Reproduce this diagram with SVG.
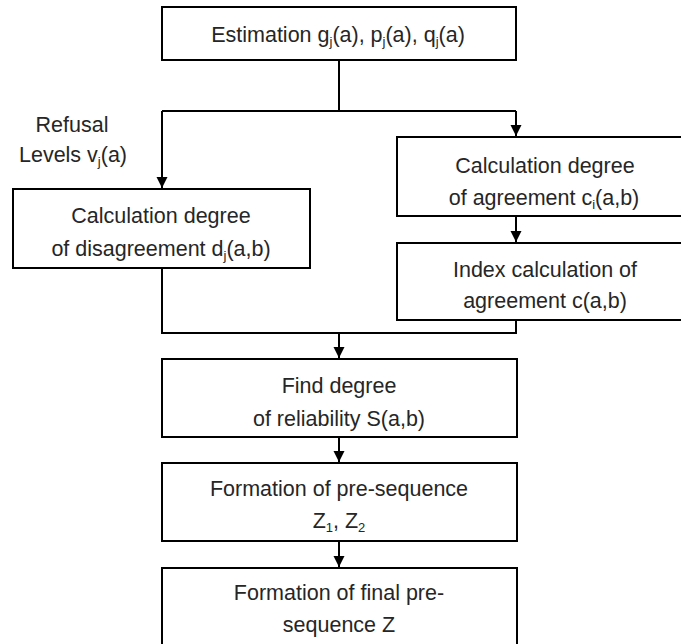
<svg xmlns="http://www.w3.org/2000/svg" width="681" height="644" viewBox="0 0 681 644">
<defs>
<style>
.box{fill:#fff;stroke:#000;stroke-width:2}
.ln{fill:none;stroke:#000;stroke-width:2}
text{font-family:"Liberation Sans",Arial,sans-serif;font-size:21.5px;fill:#262626;text-anchor:middle}
.s{font-size:13px}
</style>
<marker id="ah" markerUnits="userSpaceOnUse" markerWidth="12" markerHeight="12" refX="11" refY="6" orient="auto">
<path d="M0,0.5 L11,6 L0,11.5 z" fill="#000"/>
</marker>
</defs>
<rect width="681" height="644" fill="#fff"/>
<g id="connectors">
<path class="ln" d="M339,60 V111"/>
<path class="ln" d="M162,111 H516"/>
<path class="ln" d="M162,111 V188" marker-end="url(#ah)"/>
<path class="ln" d="M516,111 V136" marker-end="url(#ah)"/>
<path class="ln" d="M516,216 V242" marker-end="url(#ah)"/>
<path class="ln" d="M162,268 V333 H516 V320"/>
<path class="ln" d="M339,333 V358" marker-end="url(#ah)"/>
<path class="ln" d="M339,437 V462" marker-end="url(#ah)"/>
<path class="ln" d="M339,541 V567" marker-end="url(#ah)"/>
</g>
<g id="estimation">
<rect class="box" x="162" y="7" width="354" height="53"/>
<text x="338" y="42">Estimation g<tspan class="s" dy="4">j</tspan><tspan dy="-4">(a), p</tspan><tspan class="s" dy="4">j</tspan><tspan dy="-4">(a), q</tspan><tspan class="s" dy="4">j</tspan><tspan dy="-4">(a)</tspan></text>
</g>
<g id="refusal">
<text x="72" y="132">Refusal</text>
<text x="73" y="162">Levels v<tspan class="s" dy="4">j</tspan><tspan dy="-4">(a)</tspan></text>
</g>
<g id="disagreement">
<rect class="box" x="13" y="189" width="297" height="79"/>
<text x="161" y="223">Calculation degree</text>
<text x="161" y="256">of disagreement d<tspan class="s" dy="4">j</tspan><tspan dy="-4">(a,b)</tspan></text>
</g>
<g id="agreement">
<rect class="box" x="397" y="137" width="300" height="79"/>
<text x="545" y="173">Calculation degree</text>
<text x="544" y="205">of agreement c<tspan class="s" dy="4">i</tspan><tspan dy="-4">(a,b)</tspan></text>
</g>
<g id="index">
<rect class="box" x="397" y="243" width="300" height="77"/>
<text x="545" y="277">Index calculation of</text>
<text x="545" y="308">agreement c(a,b)</text>
</g>
<g id="reliability">
<rect class="box" x="162" y="359" width="355" height="78"/>
<text x="339" y="393">Find degree</text>
<text x="339" y="426">of reliability S(a,b)</text>
</g>
<g id="presequence">
<rect class="box" x="162" y="463" width="355" height="78"/>
<text x="339" y="496">Formation of pre-sequence</text>
<text x="339" y="528">Z<tspan class="s" dy="4">1</tspan><tspan dy="-4">, Z</tspan><tspan class="s" dy="4">2</tspan></text>
</g>
<g id="final">
<rect class="box" x="162" y="568" width="355" height="90"/>
<text x="339" y="600">Formation of final pre-</text>
<text x="339" y="632">sequence Z</text>
</g>
</svg>
